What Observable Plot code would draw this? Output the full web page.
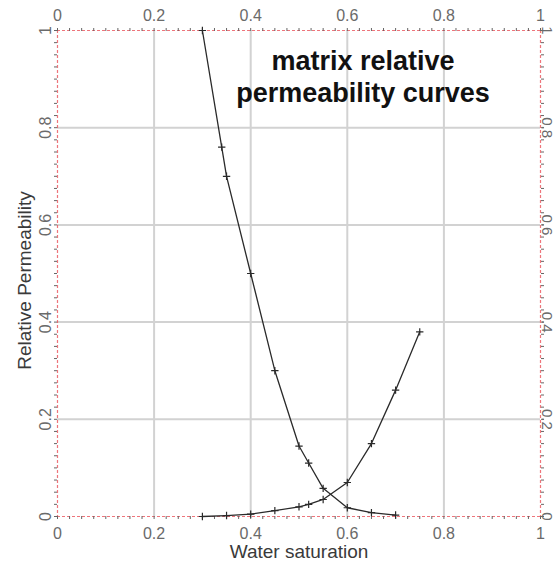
<!DOCTYPE html>
<html><head><meta charset="utf-8">
<script src="https://cdn.jsdelivr.net/npm/d3@7"></script>
<script src="https://cdn.jsdelivr.net/npm/@observablehq/plot@0.6"></script>
<style>
body{margin:0;background:#fff;}
#wrap{position:relative;width:558px;height:573px;overflow:hidden;}
#title{position:absolute;left:213px;top:45px;width:300px;text-align:center;font:bold 27px "Liberation Sans",Arial,sans-serif;line-height:32px;color:#111;}
</style></head><body><div id="wrap"><div id="chart"></div><div id="title">matrix relative<br>permeability curves</div></div>
<script>
// Oil relative permeability (matrix)
const oilSw = [0.30, 0.34, 0.35, 0.40, 0.45, 0.50, 0.52, 0.55, 0.60, 0.65, 0.70];
const oilKr = [1.00, 0.76, 0.70, 0.50, 0.30, 0.145, 0.11, 0.058, 0.018, 0.008, 0.003];
// Water relative permeability (matrix)
const waterSw = [0.30, 0.35, 0.40, 0.45, 0.50, 0.52, 0.55, 0.60, 0.65, 0.70, 0.75];
const waterKr = [0.000, 0.002, 0.005, 0.012, 0.020, 0.025, 0.035, 0.070, 0.150, 0.260, 0.380];
// Axis ticks
const xTicks = [0, 0.2, 0.4, 0.6, 0.8, 1];
const yTicks = [0, 0.2, 0.4, 0.6, 0.8, 1];
const gridVals = [0.2, 0.4, 0.6, 0.8];
const minorTicks = d3.range(0, 41).map(i => i / 40);
const frameVals = [0, 1];

const oil = oilSw.map((x, i) => ({x, y: oilKr[i]}));
const water = waterSw.map((x, i) => ({x, y: waterKr[i]}));
const fmt = d => String(d);
const tickColor = "#6a6a6a";

const chart = Plot.plot({
  width: 558, height: 573,
  marginLeft: 57, marginRight: 18, marginTop: 30, marginBottom: 57,
  x: {domain: [0, 1]},
  y: {domain: [0, 1]},
  style: {fontFamily: "'Liberation Sans', Arial, sans-serif", background: "transparent"},
  marks: [
    Plot.ruleX(gridVals, {stroke: "#d2d2d2", strokeWidth: 2}),
    Plot.ruleY(gridVals, {stroke: "#d2d2d2", strokeWidth: 2}),
    Plot.ruleX(frameVals, {stroke: "#e8474f", strokeOpacity: 0.75, strokeWidth: 1.2, strokeDasharray: "3,2"}),
    Plot.ruleY(frameVals, {stroke: "#e8474f", strokeOpacity: 0.75, strokeWidth: 1.2, strokeDasharray: "3,2"}),
    Plot.axisX({anchor: "bottom", ticks: minorTicks, tickSize: 3, tickFormat: () => "", stroke: "#666", label: null}),
    Plot.axisX({anchor: "top", ticks: minorTicks, tickSize: 3, tickFormat: () => "", stroke: "#666", label: null}),
    Plot.axisY({anchor: "left", ticks: minorTicks, tickSize: 3, tickFormat: () => "", stroke: "#666", label: null}),
    Plot.axisY({anchor: "right", ticks: minorTicks, tickSize: 3, tickFormat: () => "", stroke: "#666", label: null}),
    Plot.axisX({anchor: "bottom", ticks: xTicks, tickSize: 0, tickPadding: 11, tickFormat: fmt, fontSize: 16, fill: tickColor, label: null}),
    Plot.axisX({anchor: "top", ticks: xTicks, tickSize: 0, tickPadding: 10, tickFormat: fmt, fontSize: 16, fill: tickColor, label: null}),
    Plot.axisY({anchor: "left", ticks: yTicks, tickSize: 0, tickPadding: 7, tickRotate: -90, tickFormat: fmt, fontSize: 16, fill: tickColor, label: null}),
    Plot.text(yTicks, {frameAnchor: "right", y: d => d, text: fmt, rotate: 90, textAnchor: "middle", dx: 6, fontSize: 15, fill: tickColor}),
    Plot.text(["Water saturation"], {frameAnchor: "bottom", dy: 41, fontSize: 19, fill: "#3a3a3a"}),
    Plot.text(["Relative Permeability"], {frameAnchor: "left", dx: -33, dy: 7, rotate: -90, textAnchor: "middle", fontSize: 19, fill: "#3a3a3a"}),
    Plot.line(oil, {x: "x", y: "y", stroke: "#2a2a2a", strokeWidth: 1.3}),
    Plot.dot(oil, {x: "x", y: "y", symbol: "plus", r: 2.5, stroke: "#2a2a2a", strokeWidth: 1.2}),
    Plot.line(water, {x: "x", y: "y", stroke: "#2a2a2a", strokeWidth: 1.3}),
    Plot.dot(water, {x: "x", y: "y", symbol: "plus", r: 2.5, stroke: "#2a2a2a", strokeWidth: 1.2})
  ]
});
document.getElementById("chart").appendChild(chart);
</script>
</body></html>
